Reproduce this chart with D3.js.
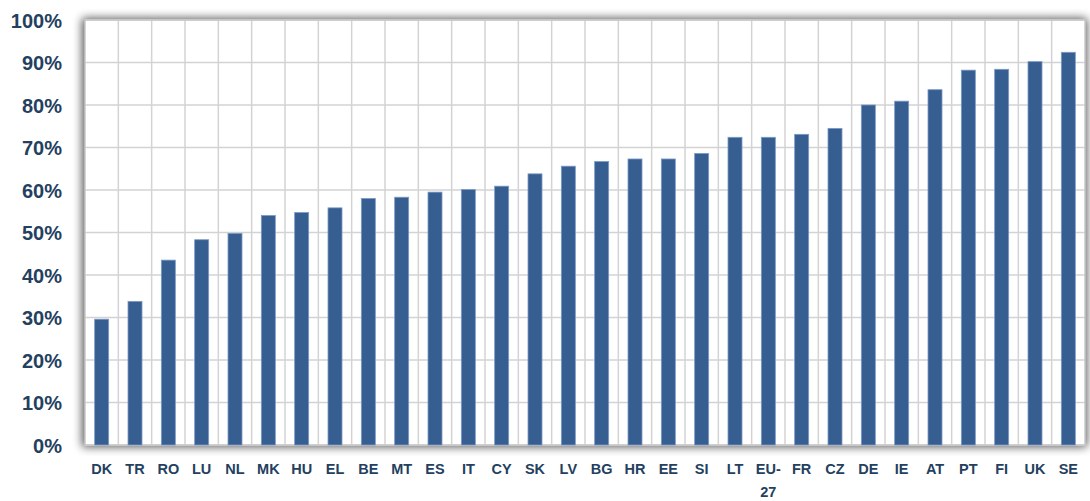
<!DOCTYPE html>
<html>
<head>
<meta charset="utf-8">
<script src="https://cdn.jsdelivr.net/npm/d3@7"></script>
<style>
  body { margin: 0; background: #fff; }
  svg { display: block; }
  .tick text { font-family: "Liberation Sans", Arial, sans-serif; font-weight: bold; fill: #243F60; }
</style>
</head>
<body>
<div id="chart"></div>
<script>
const countries = ["DK","TR","RO","LU","NL","MK","HU","EL","BE","MT","ES","IT","CY","SK","LV",
                   "BG","HR","EE","SI","LT","EU-27","FR","CZ","DE","IE","AT","PT","FI","UK","SE"];
const shares = [29.6, 33.8, 43.5, 48.3, 49.8, 54.0, 54.7, 55.8, 58.0, 58.3, 59.5, 60.1, 60.9, 63.8, 65.6,
                66.7, 67.3, 67.3, 68.6, 72.4, 72.4, 73.1, 74.5, 80.0, 80.9, 83.6, 88.2, 88.4, 90.2, 92.4];
const yTicks = [0, 10, 20, 30, 40, 50, 60, 70, 80, 90, 100];

const data = countries.map((c, i) => ({ country: c, value: shares[i] }));

const W = 1090, H = 501;
const margin = { top: 20, right: 5, bottom: 56, left: 85 },
      width = W - margin.left - margin.right,
      height = H - margin.top - margin.bottom;

const svg = d3.select("#chart")
  .append("svg")
    .attr("width", W)
    .attr("height", H);

// soft shadow around the plot area
const defs = svg.append("defs");
const f = defs.append("filter").attr("id", "glow")
    .attr("x", "-5%").attr("y", "-10%").attr("width", "110%").attr("height", "120%");
f.append("feGaussianBlur").attr("in", "SourceAlpha").attr("stdDeviation", 5);
f.append("feComponentTransfer").append("feFuncA").attr("type", "linear").attr("slope", 0.65);

const g = svg.append("g")
    .attr("transform", `translate(${margin.left},${margin.top})`);

g.append("rect")
    .attr("x", -3).attr("y", -2)
    .attr("width", width + 5).attr("height", height + 4)
    .attr("fill", "#000")
    .attr("filter", "url(#glow)");

g.append("rect")
    .attr("width", width).attr("height", height)
    .attr("fill", "#fff");

const x = d3.scaleBand()
    .domain(countries)
    .range([0, width])
    .paddingInner(0.58)
    .paddingOuter(0.29);

const xb = d3.scaleBand()
    .domain(countries)
    .range([0, width]);

const y = d3.scaleLinear()
    .domain([0, 100])
    .range([height, 0]);

// horizontal gridlines
g.selectAll(".hgrid")
  .data(yTicks)
  .enter().append("line")
    .attr("class", "hgrid")
    .attr("x1", 0).attr("x2", width)
    .attr("y1", d => y(d)).attr("y2", d => y(d))
    .style("stroke", "#D3D3D3")
    .style("stroke-width", 1.5);

// vertical gridlines between categories
g.selectAll(".vgrid")
  .data(countries.slice(1))
  .enter().append("line")
    .attr("class", "vgrid")
    .attr("x1", d => xb(d)).attr("x2", d => xb(d))
    .attr("y1", 0).attr("y2", height)
    .style("stroke", "#D3D3D3")
    .style("stroke-width", 1.5);

// frame
g.append("rect")
    .attr("width", width).attr("height", height)
    .attr("fill", "none")
    .style("stroke", "#C8C8C8")
    .style("stroke-width", 1.5);

// bars
g.selectAll(".bar")
  .data(data)
  .enter().append("rect")
    .attr("class", "bar")
    .attr("x", d => x(d.country))
    .attr("y", d => y(d.value))
    .attr("width", x.bandwidth())
    .attr("height", d => y(0) - y(d.value))
    .style("fill", "#365E91")
    .style("stroke", "#7B9AC6")
    .style("stroke-width", 0.8);

// y axis
const yAxis = g.append("g")
    .call(d3.axisLeft(y).tickValues(yTicks).tickFormat(d => d + "%").tickSize(0).tickPadding(23));
yAxis.select(".domain").remove();
yAxis.selectAll("text").style("font-size", "20px").attr("dy", "0.35em");

// x axis
const xAxis = g.append("g")
    .attr("transform", `translate(0,${height})`)
    .call(d3.axisBottom(xb).tickSize(0).tickPadding(19));
xAxis.select(".domain").remove();
xAxis.selectAll("text")
    .style("font-size", "14.5px")
    .each(function(d) {
      if (d.indexOf("-") > 0) {
        const parts = d.split("-");
        const t = d3.select(this).text(null);
        t.append("tspan").attr("x", 0).attr("dy", "0.71em").text(parts[0] + "-");
        t.append("tspan").attr("x", 0).attr("dy", "1.55em").text(parts[1]);
      }
    });
</script>
</body>
</html>
